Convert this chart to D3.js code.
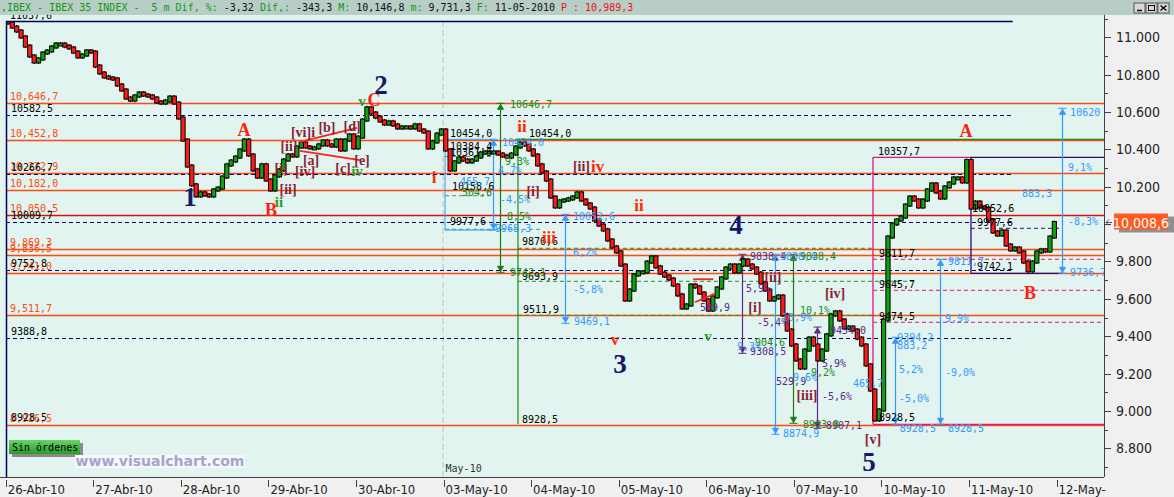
<!DOCTYPE html>
<html><head><meta charset="utf-8">
<script src="https://cdn.jsdelivr.net/npm/d3@7"></script>
<style>
body{margin:0;background:#f0f0f0;overflow:hidden}
svg{display:block}
</style></head><body>
<svg id="c" width="1174" height="497"></svg>
<script>
// ---------------- DATA ----------------
const dayLabels = ["26-Abr-10","27-Abr-10","28-Abr-10","29-Abr-10","30-Abr-10","03-May-10","04-May-10","05-May-10","06-May-10","07-May-10","10-May-10","11-May-10","12-May-"];
const yTicks = [8800,9000,9200,9400,9600,9800,10000,10200,10400,10600,10800,11000];
const firstOpen = 11090;
const d26Abr = [11077,11055,11034,11002,10953,10900,10868,10884,10916,10927,10948,10964,10964,10953,10943,10921,10895,10905,10927,10921];
const d27Abr = [10846,10809,10788,10782,10777,10745,10718,10675,10664,10686,10702,10691,10686,10675,10654,10648,10659,10680,10648,10568];
const d28Abr = [10450,10311,10210,10151,10167,10156,10151,10183,10193,10252,10317,10338,10359,10397,10450,10370,10290,10252,10317,10236];
const d29Abr = [10183,10258,10290,10343,10370,10365,10413,10434,10413,10408,10408,10424,10445,10424,10418,10450,10397,10450,10477,10408];
const d30Abr = [10466,10557,10622,10595,10573,10552,10536,10547,10531,10515,10520,10520,10515,10531,10504,10493,10408,10440,10482,10504];
const d03May = [10397,10290,10333,10354,10343,10333,10343,10359,10381,10386,10386,10386,10375,10365,10359,10375,10413,10434,10424,10397];
const d04May = [10370,10317,10279,10236,10145,10092,10124,10129,10135,10145,10167,10129,10108,10086,10022,9995,9969,9915,9878,9851];
const d05May = [9781,9594,9647,9728,9744,9744,9797,9824,9771,9738,9722,9706,9674,9621,9551,9567,9674,9664,9631,9594];
const d06May = [9540,9610,9658,9712,9765,9781,9744,9781,9808,9781,9765,9738,9685,9647,9594,9605,9615,9514,9433,9353];
const d07May = [9273,9230,9326,9390,9353,9273,9326,9407,9514,9530,9487,9444,9449,9433,9390,9353,9246,9112,8952,9005];
const d10May = [9487,9931,10001,10022,10038,10102,10145,10129,10092,10129,10183,10215,10172,10140,10199,10220,10247,10247,10226,10340];
const d11May = [10086,10118,10092,10086,10022,9958,9942,9963,9888,9862,9872,9851,9797,9750,9797,9851,9862,9856,9931,10008.6];
const dayCloses = [d26Abr,d27Abr,d28Abr,d29Abr,d30Abr,d03May,d04May,d05May,d06May,d07May,d10May,d11May];
const lastPrice = 10008.6;

const orangeLevels = [10646.7,10452.8,10272.9,10182.0,10050.5,9869.3,9836.5,9741.0,9511.7,8926.5];
const dashedLevels = [10582.5,10266.7,10009.7,9752.8,9388.8];

const bigWaves = [["1",2.104,10145],["2",4.286,10745],["3",7.015,9251],["4",8.34,9995],["5",9.858,8727]];
const redLetters = [["A",2.721,10504],["B",3.03,10076],["C",4.206,10664],["A",10.966,10499],["B",11.697,9631]];
const redRomans = [["i",4.891,10247],["ii",5.896,10525],["iii",6.204,9931],["iv",6.76,10311],["ii",7.232,10102],["v",6.958,9380]];
const greenRomans = [["v",4.069,10659],["ii",3.121,10118],["iv",4.012,10284],["v",8.02,9401]];
const bracketLabels = [["[vi]i",3.395,10488],["[b]",3.669,10515],["[d]",3.955,10525],["[ii]",3.235,10413],["[a]",3.487,10338],["[c]",3.852,10300],["[e]",4.069,10343],["[iv]",3.418,10284],["[i]",3.144,10300],["[ii]",3.224,10183],["[i]",6.022,10177],["[ii]",6.575,10311],["[ii]",8.762,9712],["[i]",8.556,9551],["[iv]",9.47,9631],["[iii]",9.15,9085],["[v]",9.904,8845]];
const blackNotes = [["10454,0",5.074,10466],["10384,4",5.074,10397],["10361,5",5.074,10365],["10158,6",5.097,10183],["9977,6",5.074,9995],["10454,0",5.976,10466],["9870,6",5.896,9888],["9693,9",5.896,9701],["9511,9",5.907,9524],["8928,5",5.896,8936],["10357,7",9.961,10370],["9811,7",9.972,9824],["9645,7",9.972,9658],["9474,5",9.972,9487],["8928,5",9.972,8946],["10052,6",11.035,10065],["9977,6",11.092,9990],["9742,1",11.092,9755],["8928,5",0.06,8945]];
const purpleNotes = [["9838,4",8.5,9808],["9308,5",8.5,9299],["509,9",7.928,9535],["-5,4%",8.58,9455],["5,9%",8.454,9637],["5,9%",9.322,9235],["-5,6%",9.322,9059],["529,9",8.797,9139],["8907,1",9.367,8903],["9454,0",9.413,9412]];
const greenNotes = [["10646,7",5.759,10622],["9742,1",5.759,9722],["9,3%",5.702,10317],["8,5%",5.725,10022],["9838,4",9.07,9808],["904,6",8.556,9348],["10,1%",9.07,9519],["-9,2%",9.128,9187],["8933,8",9.105,8909],["504,6",5.21,10150]];
const blueNotes = [["10454,0",5.667,10418],["4,7%",5.622,10268],["-4,5%",5.645,10113],["9968,3",5.588,9958],["465,7",5.188,10209],["10052,6",6.478,10022],["6,2%",6.478,9829],["-5,8%",6.478,9631],["9469,1",6.49,9460],["9838,4",8.842,9808],["10,9%",8.865,9481],["-9,6%",8.922,9160],["8874,9",8.877,8861],["9,3%",8.35,9326],["465,7",9.675,9128],["9394,2",10.18,9374],["883,2",10.18,9332],["5,2%",10.2,9203],["-5,0%",10.2,9048],["8928,5",10.21,8887],["9811,7",10.76,9781],["9,9%",10.726,9476],["-9,0%",10.726,9187],["8928,5",10.76,8887],["10620",12.155,10579],["9,1%",12.13,10284],["883,3",11.606,10145],["-8,3%",12.13,9995],["9736,7",12.155,9722]];

// segments: [t1,p1,t2,p2]
const greenSolidSegs = [[5.816,10454,12.542,10454],[5.85,10454,5.85,8928.5]];
const greenDashSegs = [[5.85,9870.6,9.9,9870.6],[5.85,9693.9,10.38,9693.9],[5.85,9511.9,9.9,9511.9]];
const tealDashSegs = [[5.017,10361.5,5.565,10361.5],[5.017,10152,5.565,10152],[5.017,9972,6.1,9972]];
const blueBoxSegs = [[5.017,10454,5.565,10454],[5.017,9968.3,5.565,9968.3],[5.017,10454,5.017,9968.3]];
const magentaSegs = [[9.904,10357.7,9.904,8928.5],[9.904,10357.7,11.023,10357.7],[9.904,8928.5,12.542,8928.5]];
const magentaDashSegs = [[9.904,9811.7,12.542,9811.7],[9.904,9645.7,12.542,9645.7],[9.904,9474.5,12.542,9474.5]];
const purpleSegs = [[11.023,10357.7,12.542,10357.7],[11.023,10357.7,11.023,9736.7],[11.023,9736.7,12.062,9736.7]];
const purpleDashSegs = [[11.023,9977.6,12.062,9977.6]];
const redSegs = [[3.36,10440,4.012,10515],[3.36,10392,4.046,10343],[7.85,9705,8.08,9705],[7.87,9582,8.1,9628]];
// vertical measures: [t, pTop, pBottom]
const blueArrows = [[5.565,10454,9968.3],[6.387,10052.6,9469.1],[8.785,9838.4,8874.9],[10.155,9394.2,8928.5],[10.669,9811.7,8928.5],[12.062,10620,9736.7]];
const greenArrows = [[5.645,10646.7,9742.1],[8.99,9838.4,8933.8]];
const purpleBeams = [[8.408,9838.4,9308.5],[9.265,9449,8907.1]];

// ---------------- LAYOUT ----------------
const W = 1174, H = 497;
const plotL = 6, plotR = 1104, plotT = 21, plotB = 477;
const svg = d3.select("#c");
const x = d3.scaleLinear().domain([0, 12.542]).range([5.7, plotR]);
const y = d3.scaleLinear().domain([8800, 11000]).range([448.3, 37.3]);
const mono = "'DejaVu Sans Mono', monospace";
const narrow = "'Liberation Sans Narrow', 'DejaVu Sans Condensed', 'Liberation Sans', sans-serif";
const serif = "'Liberation Serif', 'DejaVu Serif', serif";

const locOr = d3.formatLocale({decimal:",", thousands:",", grouping:[3], currency:["",""]});
const fmtOr = locOr.format(",.1f");
const locAx = d3.formatLocale({decimal:",", thousands:".", grouping:[3], currency:["",""]});
const fmtAx = locAx.format(",.0f");
const fmtBlk = v => d3.format(".1f")(v).replace(".", ",");

// backgrounds
svg.append("rect").attr("width", W).attr("height", H).attr("fill", "#f0f0f0");
svg.append("rect").attr("x", 0).attr("y", 15).attr("width", plotR).attr("height", plotB - 15).attr("fill", "#e1f4ef");

svg.append("defs").append("clipPath").attr("id", "clip")
  .append("rect").attr("x", plotL).attr("y", plotT).attr("width", plotR - plotL).attr("height", plotB - plotT);

// top cut label
svg.append("text").attr("x", 10).attr("y", 19).attr("font-family", mono).attr("font-size", 10).attr("fill", "#000").text("11037,6");

const g = svg.append("g").attr("clip-path", "url(#clip)");

// month separator
g.append("line").attr("x1", x(5)-0.5).attr("x2", x(5)-0.5).attr("y1", plotT).attr("y2", plotB)
  .attr("stroke", "#c4c4c4").attr("stroke-dasharray", "6,3");

function segs(data, color, width, dash) {
  g.append("g").selectAll("line").data(data).join("line")
    .attr("x1", d => x(d[0])).attr("y1", d => y(d[1])).attr("x2", d => x(d[2])).attr("y2", d => y(d[3]))
    .attr("stroke", color).attr("stroke-width", width).attr("stroke-dasharray", dash || null);
}

// horizontal levels
g.append("g").selectAll("line").data(orangeLevels).join("line")
  .attr("x1", plotL).attr("x2", plotR).attr("y1", d => Math.round(y(d)) + 0.5).attr("y2", d => Math.round(y(d)) + 0.5)
  .attr("stroke", d => d === 10050.5 ? "#e01010" : "#ff4a10").attr("stroke-width", 1.3);
g.append("g").selectAll("line").data(dashedLevels).join("line")
  .attr("x1", plotL).attr("x2", x(11.5)).attr("y1", d => Math.round(y(d)) + 0.5).attr("y2", d => Math.round(y(d)) + 0.5)
  .attr("stroke", "#000060").attr("stroke-width", 1).attr("stroke-dasharray", "4,3");
g.append("g").selectAll("text").data(orangeLevels).join("text")
  .attr("x", 10).attr("y", d => y(d) - 3).attr("font-family", mono).attr("font-size", 10).attr("fill", "#ff4a10").text(d => fmtOr(d));
g.append("g").selectAll("text").data(dashedLevels).join("text")
  .attr("x", 11).attr("y", d => y(d) - 3).attr("font-family", mono).attr("font-size", 10).attr("fill", "#000").text(d => fmtBlk(d));

segs(greenDashSegs, "#1a9a1a", 1, "4,3");
segs(tealDashSegs, "#4a9090", 1, "4,3");
segs(magentaDashSegs, "#e0147e", 1, "4,3");
segs(purpleDashSegs, "#3a0a7a", 1, "4,3");
segs(greenSolidSegs, "#1a8a1a", 1.2);
segs(blueBoxSegs, "#3399ff", 1);
segs(magentaSegs, "#e0147e", 1.3);
segs(purpleSegs, "#30087a", 1.3);

// measure arrows
function measure(data, color) {
  const gg = g.append("g").attr("stroke", color).attr("fill", color);
  data.forEach(d => {
    const xx = Math.round(x(d[0])) + 0.5, y1 = y(d[1]), y2 = y(d[2]);
    gg.append("line").attr("x1", xx).attr("x2", xx).attr("y1", y1).attr("y2", y2).attr("stroke-width", 1.2);
    gg.append("line").attr("x1", xx-4).attr("x2", xx+4).attr("y1", y1).attr("y2", y1);
    gg.append("line").attr("x1", xx-4).attr("x2", xx+4).attr("y1", y2).attr("y2", y2);
    gg.append("path").attr("d", `M${xx-3},${y1+6}L${xx},${y1+1}L${xx+3},${y1+6}Z`);
    gg.append("path").attr("d", `M${xx-3},${y2-6}L${xx},${y2-1}L${xx+3},${y2-6}Z`);
  });
}
measure(blueArrows, "#3399ff");
measure(greenArrows, "#1a7a1a");
measure(purpleBeams, "#5a2a8a");

// candles
const candles = [];
let prev = firstOpen;
dayCloses.forEach((arr, d) => arr.forEach((c, i) => {
  candles.push({t: d + (i + 0.5) / arr.length, o: prev, c});
  prev = c;
}));
const cg = g.append("g");
cg.selectAll("line").data(candles).join("line")
  .attr("x1", d => x(d.t)).attr("x2", d => x(d.t))
  .attr("y1", d => y(Math.max(d.o, d.c) + 11)).attr("y2", d => y(Math.min(d.o, d.c) - 11))
  .attr("stroke", "#000").attr("stroke-width", 1.2);
cg.selectAll("rect").data(candles).join("rect")
  .attr("x", d => x(d.t) - 2.1).attr("width", 4.2)
  .attr("y", d => y(Math.max(d.o, d.c)) - 1)
  .attr("height", d => Math.max(3, Math.abs(y(d.o) - y(d.c)) + 2))
  .attr("fill", d => d.c >= d.o ? "#10a010" : "#ff1a1a")
  .attr("stroke", "#000").attr("stroke-width", 1);

segs(redSegs, "#ff2020", 1.8);

// labels
function labels(data, opts) {
  g.append("g").selectAll("text").data(data).join("text")
    .attr("x", d => x(d[1])).attr("y", d => y(d[2]))
    .attr("text-anchor", opts.anchor || "middle")
    .attr("dominant-baseline", opts.baseline || "central")
    .attr("font-family", opts.font).attr("font-size", opts.size)
    .attr("font-weight", opts.weight || "normal").attr("fill", opts.color)
    .text(d => d[0]);
}
labels(blackNotes, {font: mono, size: 10, color: "#000", anchor: "start", baseline: "auto"});
labels(purpleNotes, {font: mono, size: 10, color: "#5a2a8a", anchor: "start", baseline: "auto"});
labels(greenNotes, {font: mono, size: 10, color: "#1a8a1a", anchor: "start", baseline: "auto"});
labels(blueNotes, {font: mono, size: 10, color: "#3399ff", anchor: "start", baseline: "auto"});
labels(bracketLabels, {font: serif, size: 14, color: "#8b1f35", weight: "bold"});
labels(redRomans, {font: serif, size: 17, color: "#ff2a00", weight: "bold"});
labels(greenRomans, {font: serif, size: 15, color: "#2a9a2a", weight: "bold"});
labels(redLetters, {font: serif, size: 18, color: "#ff2010", weight: "bold"});
labels(bigWaves, {font: serif, size: 27, color: "#181868", weight: "bold"});

// frame lines
svg.append("line").attr("x1", plotL).attr("x2", x(11.5)).attr("y1", plotT + 0.5).attr("y2", plotT + 0.5).attr("stroke", "#000050").attr("stroke-width", 1.5);
svg.append("line").attr("x1", plotL + 0.5).attr("x2", plotL + 0.5).attr("y1", plotT).attr("y2", plotB).attr("stroke", "#000060").attr("stroke-width", 1.5);

// May-10 label
svg.append("text").attr("x", x(5) + 2).attr("y", 472).attr("font-family", mono).attr("font-size", 10).attr("fill", "#333").text("May-10");

// Sin órdenes button
svg.append("rect").attr("x", 12).attr("y", 443).attr("width", 71).attr("height", 14).attr("fill", "#8a8a8a");
const btnGrad = svg.select("defs").append("linearGradient").attr("id", "bg").attr("x1", 0).attr("x2", 0).attr("y1", 0).attr("y2", 1);
btnGrad.append("stop").attr("offset", 0).attr("stop-color", "#6ad46a");
btnGrad.append("stop").attr("offset", 1).attr("stop-color", "#2a9a2a");
svg.append("rect").attr("x", 9).attr("y", 440).attr("width", 71).attr("height", 14).attr("fill", "url(#bg)");
svg.append("text").attr("x", 12).attr("y", 451).attr("font-family", mono).attr("font-size", 10).attr("fill", "#000").text("Sin órdenes");

// watermark
svg.append("rect").attr("x", 75).attr("y", 455).attr("width", 170).attr("height", 13).attr("fill", "#f6f8fb");
svg.append("text").attr("x", 160).attr("y", 466).attr("text-anchor", "middle").attr("font-family", "'DejaVu Sans', Verdana, sans-serif")
  .attr("font-weight", "bold").attr("font-size", 14).attr("fill", "#a4a4cc").text("www.visualchart.com");

// ---------------- AXES ----------------
svg.append("line").attr("x1", plotR + 0.5).attr("x2", plotR + 0.5).attr("y1", 15).attr("y2", plotB).attr("stroke", "#404040");
const minorTicks = d3.range(8700, 11101, 100).filter(v => y(v) > 16 && y(v) < plotB);
svg.append("g").selectAll("line").data(minorTicks).join("line")
  .attr("x1", plotR).attr("x2", d => yTicks.includes(d) ? plotR + 7 : plotR + 4)
  .attr("y1", d => Math.round(y(d)) + 0.5).attr("y2", d => Math.round(y(d)) + 0.5).attr("stroke", "#404040");
svg.append("g").selectAll("text").data(yTicks.filter(v => v !== 10000)).join("text")
  .attr("x", 1116).attr("y", d => y(d)).attr("dominant-baseline", "central")
  .attr("font-family", narrow).attr("font-size", 14).attr("fill", "#222").text(d => fmtAx(d));

// last price box
const ly = y(lastPrice);
svg.append("rect").attr("x", 1119).attr("y", ly - 6).attr("width", 55).attr("height", 16).attr("fill", "#909090");
svg.append("rect").attr("x", 1114).attr("y", ly - 9).attr("width", 54).attr("height", 16).attr("fill", "#ff5a20");
svg.append("text").attr("x", 1141).attr("y", ly).attr("text-anchor", "middle").attr("dominant-baseline", "central")
  .attr("font-family", narrow).attr("font-size", 14).attr("fill", "#fff").text(fmtOr(lastPrice));
svg.append("path").attr("d", `M1106,${ly}L1112,${ly}M1106,${ly}L1109,${ly-3}M1106,${ly}L1109,${ly+3}`).attr("stroke", "#555").attr("fill", "none");

// bottom axis
svg.append("line").attr("x1", 0).attr("x2", plotR).attr("y1", plotB + 0.5).attr("y2", plotB + 0.5).attr("stroke", "#404040");
svg.append("g").selectAll("line").data(dayLabels).join("line")
  .attr("x1", (d, i) => Math.round(x(i)) + 0.5).attr("x2", (d, i) => Math.round(x(i)) + 0.5)
  .attr("y1", plotB + 3).attr("y2", plotB + 10).attr("stroke", "#404040");
svg.append("g").selectAll("text").data(dayLabels).join("text")
  .attr("x", (d, i) => x(i) + 2).attr("y", 494)
  .attr("font-family", narrow).attr("font-size", 13).attr("fill", "#222").text(d => d);

// ---------------- HEADER ----------------
svg.append("rect").attr("x", 0).attr("y", 0).attr("width", W).attr("height", 15).attr("fill", "#b8cdc6");
const ht = svg.append("text").attr("x", 1).attr("y", 11).attr("font-family", mono).attr("font-size", 10).attr("xml:space", "preserve");
[[",IBEX - IBEX 35 INDEX -  5 m Dif, %: ", "#119a11"], ["-3,32", "#111"], [" Dif,: ", "#119a11"], ["-343,3", "#111"],
 [" M: ", "#119a11"], ["10,146,8", "#111"], [" m: ", "#119a11"], ["9,731,3", "#111"], [" F: ", "#119a11"], ["11-05-2010", "#111"],
 [" P : ", "#ee1111"], ["10,989,3", "#ee1111"]].forEach(p => ht.append("tspan").attr("fill", p[1]).text(p[0]));
[1134, 1146, 1158].forEach(bx => {
  svg.append("rect").attr("x", bx).attr("y", 3).attr("width", 11).attr("height", 10).attr("fill", "#d8d8d8").attr("stroke", "#555");
});
svg.append("line").attr("x1", 1137).attr("x2", 1142).attr("y1", 10.5).attr("y2", 10.5).attr("stroke", "#000").attr("stroke-width", 1.5);
svg.append("rect").attr("x", 1148.5).attr("y", 5.5).attr("width", 6).attr("height", 5).attr("fill", "none").attr("stroke", "#000");
svg.append("path").attr("d", "M1160.5,5.5L1166.5,10.5M1166.5,5.5L1160.5,10.5").attr("stroke", "#000").attr("stroke-width", 1.3);
</script>
</body></html>
